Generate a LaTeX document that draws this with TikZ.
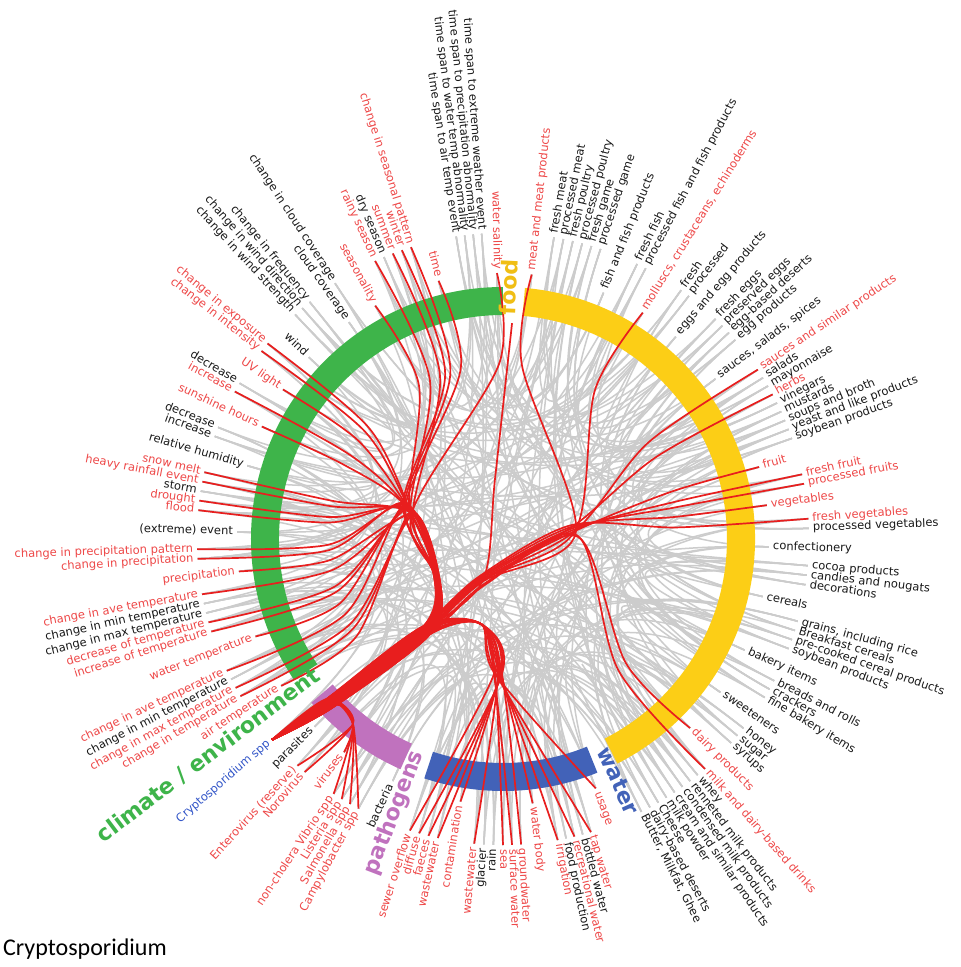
\documentclass[tikz,border=0pt]{standalone}
\usepackage{fontspec}
\setmainfont{DejaVu Sans}
\newfontfamily\capfont{Carlito}
\usepackage{xcolor}
\usepackage{tikz}
\usetikzlibrary{calc}
\definecolor{envgreen}{RGB}{62,180,74}
\definecolor{foodyellow}{RGB}{252,206,22}
\definecolor{foodtxt}{RGB}{240,190,20}
\definecolor{waterblue}{RGB}{66,98,184}
\definecolor{pathpurple}{RGB}{192,114,190}
\definecolor{linkred}{RGB}{232,30,30}
\definecolor{linkgray}{RGB}{204,204,204}
\definecolor{txtr}{RGB}{238,72,72}
\definecolor{txtk}{RGB}{25,25,25}
\definecolor{txtb}{RGB}{50,85,200}
\tikzstyle{lbl} = [font=\fontsize{11.5}{13}\selectfont, inner sep=0pt]
\tikzstyle{grp} = [font=\fontsize{22}{24}\selectfont\bfseries, inner sep=0pt]
\tikzstyle{graylink} = [draw=linkgray, line width=1.5pt]
\tikzstyle{redlink} = [draw=linkred, line width=1.7pt]
\newcommand\ringseg[3]{\fill[#1] (#2:252) arc[start angle=#2, end angle=#3, radius=252] -- (#3:224) arc[start angle=#3, end angle=#2, radius=224] -- cycle;}

% angle / level / colour / text, clockwise per group
\def\leaflist{
91.3/1/r/water salinity,
94.0/2/k/time span to extreme weather event,
95.6/2/k/time span to precipitation abnormality,
97.2/2/k/time span to water temp abnormality,
98.8/2/k/time span to air temp event,
104.0/1/r/time,
107.5/2/r/change in seasonal pattern,
109.3/2/r/winter,
111.1/2/r/summer,
112.9/2/k/dry season,
114.7/2/r/rainy season,
118.7/1/r/seasonality,
123.3/2/k/change in cloud coverage,
125.4/1/k/cloud coverage,
129.2/2/k/change in frequency,
131.0/2/k/change in wind direction,
132.8/2/k/change in wind strength,
136.9/1/k/wind,
140.3/2/r/change in exposure,
142.1/2/r/change in intensity,
145.8/1/r/UV light,
149.4/2/k/decrease,
151.2/2/r/increase,
155.0/1/r/sunshine hours,
158.6/2/k/decrease,
160.4/2/k/increase,
164.0/1/k/relative humidity,
167.4/2/r/snow melt,
169.2/2/r/heavy rainfall event,
171.0/2/k/storm,
172.8/2/r/drought,
174.6/2/r/flood,
178.5/1/k/(extreme) event,
181.9/2/r/change in precipitation pattern,
183.7/2/r/change in precipitation,
187.0/1/r/precipitation,
190.4/2/r/change in ave temperature,
192.2/2/k/change in min temperature,
194.0/2/k/change in max temperature,
195.8/2/r/decrease of temperature,
197.6/2/r/increase of temperature,
201.5/1/r/water temperature,
205.5/2/r/change in ave temperature,
207.3/2/k/change in min temperature,
209.1/2/r/change in max temperature,
210.9/2/r/change in temperature,
213.5/1/r/air temperature,
83.8/1/r/meat and meat products,
80.4/2/k/fresh meat,
78.6/2/k/processed meat,
76.8/2/k/fresh poultry,
75.0/2/k/processed poultry,
73.2/2/k/fresh game,
71.4/2/k/processed game,
67.8/1/k/fish and fish products,
64.0/2/k/fresh fish,
62.2/2/k/processed fish and fish products,
58.3/1/r/{molluscs, crustaceans, echinoderms},
54.4/2/k/fresh,
52.6/2/k/processed,
49.5/1/k/eggs and egg products,
46.0/2/k/fresh eggs,
44.2/2/k/preserved eggs,
42.4/2/k/egg-based deserts,
40.6/2/k/egg products,
37.0/1/k/{sauces, salads, spices},
33.6/2/r/sauces and similar products,
31.8/2/k/salads,
30.0/2/k/mayonnaise,
28.2/2/r/herbs,
26.4/2/k/vinegars,
24.6/2/k/mustards,
22.8/2/k/soups and broth,
21.0/2/k/yeast and like products,
19.2/2/k/soybean products,
15.7/1/r/fruit,
12.2/2/r/fresh fruit,
10.4/2/r/processed fruits,
7.3/1/r/vegetables,
3.8/2/r/fresh vegetables,
2.0/2/k/processed vegetables,
-1.7/1/k/confectionery,
-5.0/2/k/cocoa products,
-6.8/2/k/candies and nougats,
-8.6/2/k/decorations,
-12.5/1/k/cereals,
-15.6/2/k/{grains, including rice},
-17.4/2/k/Breakfast cereals,
-19.2/2/k/pre-cooked cereal products,
-21.0/2/k/soybean products,
-24.7/1/k/bakery items,
-27.6/2/k/breads and rolls,
-29.4/2/k/crackers,
-31.2/2/k/fine bakery items,
-35.2/1/k/sweeteners,
-38.2/2/k/honey,
-40.0/2/k/sugar,
-41.8/2/k/syrups,
-45.3/1/r/dairy products,
-48.7/2/r/milk and dairy-based drinks,
-50.5/2/k/whey,
-52.3/2/k/renneted milk products,
-54.1/2/k/condensed milk products,
-55.9/2/k/cream and similar products,
-57.7/2/k/milk powder,
-59.5/2/k/Cheese,
-61.3/2/k/dairy-based deserts,
-63.1/2/k/{Butter, Milkfat, Ghee},
-69.6/1/r/usage,
-73.3/2/r/tap water,
-74.9/2/k/bottled water,
-76.5/2/r/recreational water,
-78.1/2/k/food production,
-79.7/2/r/irrigation,
-83.6/1/r/water body,
-86.6/2/r/groundwater,
-88.3/2/r/surface water,
-90.0/2/r/sea,
268.2/2/k/rain,
266.4/2/k/glacier,
264.6/2/r/wastewater,
260.8/1/r/contamination,
257.7/2/r/wastewater,
255.9/2/r/faeces,
254.1/2/r/diffuse,
252.3/2/r/sewer overflow,
245.5/1/k/bacteria,
241.8/2/r/Campylobacter spp,
240.0/2/r/Salmonella spp,
238.2/2/r/Listeria spp,
236.4/2/r/non-cholera Vibrio spp,
233.3/1/r/viruses,
229.6/2/r/Norovirus,
227.8/2/r/Enterovirus (reserve),
224.9/1/k/parasites,
221.0/2/b/Cryptosporidium spp}

\begin{document}
\begin{tikzpicture}[x=1pt, y=1pt]
    \fill[white] (-503,-428) rectangle (458,539);
    \useasboundingbox (-503,-428) rectangle (458,539);

    \foreach \ang/\lev/\col/\txt [count=\n] in \leaflist {
        \pgfmathsetmacro\re{\lev==1 ? 266 : 306}
        \coordinate (l\n) at (\ang:\re);
        \coordinate (k\n) at (\ang:95);
        \coordinate (m\n) at (\ang:175);
    }
    \coordinate (src) at (l136);
    \coordinate (hp1) at (-173,-164);
    \coordinate (hp2) at (-76,-91);
    \coordinate (hc1) at (-66,-40);
    \coordinate (hc2) at (-95,30);
    \coordinate (hf1) at (-20,-41);
    \coordinate (hf2) at (72,8);
    \coordinate (hw1) at (-22,-85);
    \coordinate (hw2) at (-5,-135);
    \coordinate (hq1) at (-150,-185);
    \coordinate (fdm) at (-8,60);
    \coordinate (fd) at (87.6:216);

    % grey links
    \foreach \i in {1,...,136} {
        \pgfmathtruncatemacro\j{mod(37*\i+11,136)+1}
        \pgfmathtruncatemacro\jj{mod(59*\i+29,136)+1}
        \draw[graylink] (l\i) .. controls (k\i) and (k\j) .. (l\j);
        \draw[graylink] (l\i) .. controls (k\i) and (k\jj) .. (l\jj);
    }

    \ringseg{envgreen}{90}{214}
    \ringseg{pathpurple}{220.5}{246}
    \ringseg{waterblue}{251.8}{292}
    \ringseg{foodyellow}{-63}{85}

    % red links from Cryptosporidium spp
    \foreach \ang/\lev/\col/\txt [count=\n] in \leaflist {
        \if\col r
            \pgfmathsetmacro\jx{-0.8*(mod(\n,9)-4)}
            \pgfmathsetmacro\jy{1.0*(mod(\n,9)-4)}
            \ifnum\n<48
                \draw[redlink] plot[smooth] coordinates {(src) ($(hp1)+(\jx,\jy)$) ($(hp2)+(\jx,\jy)$) ($(hc1)+(\jx,\jy)$) ($(hc2)+(1.5*\jx,1.5*\jy)$) (m\n) (l\n)};
            \else\ifnum\n<109
                \draw[redlink] plot[smooth] coordinates {(src) ($(hp1)+(\jx,\jy)$) ($(hp2)+(\jx,\jy)$) ($(hf1)+(\jx,\jy)$) ($(hf2)+(\jx,1.5*\jy)$) (m\n) (l\n)};
            \else\ifnum\n<127
                \draw[redlink] plot[smooth] coordinates {(src) ($(hp1)+(\jx,\jy)$) ($(hp2)+(\jx,\jy)$) (hw1) ($(hw2)+(\jy,0)$) (l\n)};
            \else
                \draw[redlink] plot[smooth] coordinates {(src) ($(hp1)+(\jx,\jy)$) (hq1) (l\n)};
            \fi\fi\fi
        \fi
    }
    \draw[redlink] plot[smooth] coordinates {(src) (hp1) (hp2) (hf1) (fdm) (fd)};

    \foreach \ang/\lev/\col/\txt [count=\n] in \leaflist {
        \pgfmathsetmacro\rl{\lev==1 ? 270 : 310}
        \ifdim\ang pt>90pt
            \node[lbl, text=txt\col, rotate=\ang-180, anchor=mid east] (t\n) at (\ang:\rl) {\txt};
        \else
            \node[lbl, text=txt\col, rotate=\ang, anchor=mid west] (t\n) at (\ang:\rl) {\txt};
        \fi
    }

    \node[grp, text=envgreen, rotate=37, anchor=mid east] (genv) at (217:229) {climate / environment};
    \node[grp, text=pathpurple, rotate=69, anchor=mid east] (gpath) at (249:229) {pathogens};
    \node[grp, text=waterblue, rotate=-65.5, anchor=mid west] (gwater) at (-65.5:232) {water};
    \node[grp, text=foodtxt, rotate=87.5, anchor=mid west] (gfood) at (87.5:224) {food};
    \node[font=\capfont\fontsize{24}{26}\selectfont, inner sep=0pt, anchor=base west] (cap) at (-500,-416) {Cryptosporidium};
\end{tikzpicture}
\end{document}
